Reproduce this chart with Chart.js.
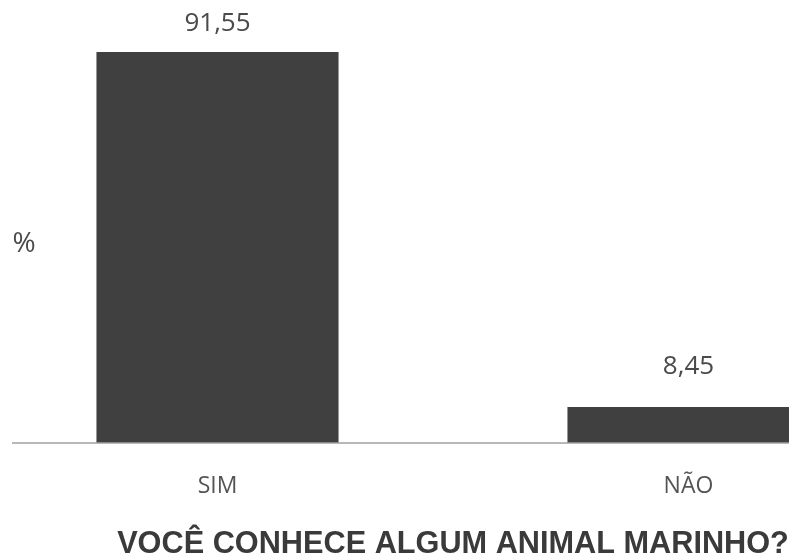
<!DOCTYPE html>
<html>
<head>
<meta charset="utf-8">
<script src="https://cdn.jsdelivr.net/npm/chart.js@4"></script>
<style>
  html, body { margin: 0; padding: 0; background: #fff; overflow: hidden; }
  #wrap { position: absolute; left: -18px; top: 0; width: 942px; height: 553px; }
</style>
</head>
<body>
<div id="wrap"><canvas id="bar-chart" width="942" height="553"></canvas></div>
<script>
// dados
var categorias = ["SIM", "NÃO"];
var valores = [91.55, 8.45];
var titulo = "VOCÊ CONHECE ALGUM ANIMAL MARINHO?";
var rotuloY = "%";

var labelOffset = [28, 40];

var extras = {
    id: 'extras',
    afterDatasetsDraw: function (chart) {
        var ctx = chart.ctx;
        var y = chart.scales.y;
        var meta = chart.getDatasetMeta(0);
        ctx.save();
        // linha de base
        ctx.strokeStyle = "#a0a0a0";
        ctx.lineWidth = 1.5;
        ctx.beginPath();
        ctx.moveTo(30, y.getPixelForValue(0));
        ctx.lineTo(chart.width, y.getPixelForValue(0));
        ctx.stroke();
        // rótulos de valores
        ctx.fillStyle = "#4a4a4a";
        ctx.font = "26px 'Open Sans'";
        ctx.textAlign = "center";
        ctx.textBaseline = "middle";
        meta.data.forEach(function (bar, i) {
            ctx.fillText(valores[i].toFixed(2).replace('.', ','), bar.x, bar.y - labelOffset[i]);
        });
        // rótulo do eixo
        ctx.font = "28px 'Open Sans'";
        ctx.fillText(rotuloY, 42, 244);
        ctx.restore();
    }
};

new Chart(document.getElementById("bar-chart"), {
    type: 'bar',
    data: {
        labels: categorias,
        datasets: [
            {
                backgroundColor: "#404040",
                barPercentage: 0.514,
                categoryPercentage: 1,
                data: valores
            }
        ]
    },
    options: {
        responsive: false,
        animation: false,
        layout: {padding: {top: 16, left: 0, right: 0, bottom: -8}},
        plugins: {
            legend: {display: false},
            tooltip: {enabled: false},
            title: {
                display: true,
                position: 'bottom',
                text: titulo,
                color: "#3a3a3a",
                font: {family: "'Liberation Sans', Arial", size: 30.7, weight: 'bold', lineHeight: 32 / 30.7},
                padding: 0
            }
        },
        scales: {
            x: {
                grid: {display: false, drawTicks: false},
                border: {display: false},
                ticks: {color: "#555", font: {family: "'Open Sans'", size: 23, lineHeight: 86 / 23}, padding: 0}
            },
            y: {
                display: false,
                min: 0,
                max: 100
            }
        }
    },
    plugins: [extras]
});
</script>
</body>
</html>
